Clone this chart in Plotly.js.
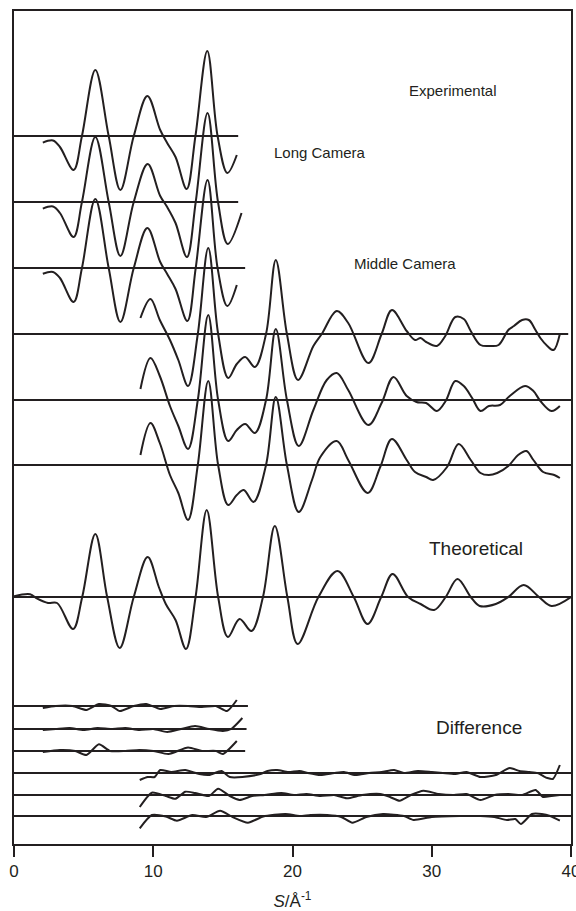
<!DOCTYPE html>
<html>
<head>
<meta charset="utf-8">
<script src="https://cdn.plot.ly/plotly-3.0.1.min.js"></script>
<style>html,body{margin:0;padding:0;background:#fff;}#chart{width:576px;height:911px;}</style>
</head>
<body>
<div id="chart"></div>
<script>
// ---- Data: s (Å^-1) and scattering intensity (arbitrary units, relative to each baseline) ----
// Experimental, long camera distance
const lc1S = [2.07, 2.8, 3.3, 4.28, 4.88, 5.84, 6.8, 7.64, 8.6, 9.58, 10.5, 11.0, 11.6, 12.4, 13.03, 13.88, 14.62, 15.32, 16.0];
const lc1Y = [-6.7, -4.5, -11, -34, 0, 66, 0, -54, 0, 40, 6, -7, -21, -53, 0, 85, 0, -37, -19];
const lc2S = [2.07, 2.8, 3.3, 4.28, 4.88, 5.84, 6.8, 7.64, 8.6, 9.6, 10.5, 11.0, 11.6, 12.42, 13.05, 13.9, 14.65, 15.35, 16.34];
const lc2Y = [-6.7, -4.5, -11, -35, 0, 65, 0, -54, 0, 38, 6, -5, -21, -55, 0, 89, 0, -42, -11];
const lc3S = [2.07, 2.8, 3.3, 4.28, 4.88, 5.84, 6.8, 7.64, 8.6, 9.58, 10.5, 11.0, 11.6, 12.45, 13.05, 13.9, 14.62, 15.32, 16.0];
const lc3Y = [-5.7, -4, -10, -34, 0, 69, 0, -54, 0, 40, 6, -6, -21, -53, 0, 88, 0, -38, -17];

// Experimental, middle camera distance
const mc1S = [9.08, 9.8, 10.47, 11.2, 11.8, 12.5, 13.2, 13.95, 14.66, 15.38, 16.0, 16.6, 17.3, 18.1, 18.8, 19.6, 20.4, 21.5, 22.1, 23.18, 24.0, 25.45, 26.4, 27.14, 28.2, 28.8, 29.2, 29.6, 30.37, 30.97, 31.69, 32.3, 32.8, 33.5, 34.2, 34.8, 35.5, 35.9, 36.49, 36.97, 37.45, 37.8, 38.3, 38.75, 39.2];
const mc1Y = [16, 35, 14, -6, -26, -52, 0, 86, 0, -44, -30, -23, -33, 0, 74, 0, -46, -12, 0, 23, 11, -29, 0, 24, 3, -6, -4, -8, -12, -2, 17, 15, 3, -11, -12, -11, 4, 8, 14, 14, 4, -4, -12, -16, 0];
const mc2S = [9.08, 9.8, 10.47, 11.2, 11.8, 12.5, 13.2, 13.95, 14.66, 15.38, 16.0, 16.6, 17.3, 18.1, 18.8, 19.6, 20.45, 21.5, 22.46, 23.18, 24.0, 25.45, 26.4, 27.25, 28.2, 28.9, 29.6, 30.37, 31.0, 31.69, 32.3, 32.9, 33.5, 34.1, 34.9, 35.6, 36.7, 37.3, 37.8, 38.6, 39.2];
const mc2Y = [11, 42, 24, -6, -26, -49, 0, 85, 0, -41, -30, -24, -33, 0, 71, 0, -46, -10, 20, 27, 10, -25, -3, 23, 4, -2, -3, -11, -1, 19, 14, 2, -11, -6, -5, 4, 14, 9, -1, -11, -6];
const mc3S = [9.08, 9.8, 10.47, 11.2, 11.8, 12.5, 13.2, 13.95, 14.66, 15.38, 16.0, 16.5, 17.2, 18.1, 18.8, 19.6, 20.45, 21.4, 22.0, 23.18, 24.0, 25.4, 26.3, 27.14, 28.2, 28.8, 29.6, 30.1, 31.1, 31.93, 32.8, 33.5, 34.1, 34.7, 35.5, 36.2, 36.8, 37.3, 38.0, 38.8, 39.2];
const mc3Y = [10, 42, 22, -10, -28, -55, 0, 84, 0, -40, -30, -25, -37, 0, 68, 0, -47, -15, 8, 24, 5, -28, -2, 26, 5, -7, -12, -15, -2, 21, 5, -8, -10, -8, -1, 10, 14, 5, -7, -10, -13];

// Theoretical
const thS = [0, 1.16, 1.67, 2.44, 3.09, 4.24, 4.9, 5.84, 6.69, 7.59, 8.6, 9.6, 10.4, 10.9, 11.6, 12.35, 13.04, 13.84, 14.66, 15.36, 16.2, 17.05, 17.88, 18.73, 19.63, 20.37, 21.86, 23.23, 24.4, 25.39, 26.37, 27.19, 28.3, 29.2, 30.17, 31.0, 31.85, 32.8, 33.44, 34.6, 35.5, 36.6, 37.7, 38.6, 40];
const thY = [0.7, 2.7, -1.7, -6, -6, -32, 0, 63, 0, -51, 0, 40, 10, -7, -23, -52, 0, 87, 0, -40, -22, -34, 0, 71, 0, -47, 0, 26, 0, -27, 0, 23, 0, -7, -13, 0, 18, 0, -9, -7, 0, 12, 0, -9, 0];

// Differences (experimental - theoretical)
const d1S = [2.07, 3.0, 4.2, 5.2, 6.1, 7.0, 7.6, 8.6, 9.5, 10.5, 11.5, 12.5, 13.5, 14.5, 15.3, 16.0];
const d1Y = [-2, 0, 0, -4, 2, 0, -5, 0, 2, -3, 0, 0, -1, 0, -5, 6];
const d2S = [2.07, 3.0, 4.0, 5.0, 6.0, 7.0, 8.0, 9.0, 10.0, 11.0, 12.0, 13.0, 14.0, 15.0, 15.6, 16.4];
const d2Y = [-1, 0, 1, -1, 1, 0, 1, -1, 0, -3, 0, 3, 0, -2, 0, 11];
const d3S = [2.07, 3.3, 4.4, 5.2, 6.1, 6.9, 8.0, 9.0, 10.0, 11.1, 12.5, 13.5, 14.5, 15.0, 16.0];
const d3Y = [-1, 1, 0, -4, 6.7, 0, 0, 1, 0, -3, 3.5, 0, 0, -3, 10];
const d4S = [9.03, 9.6, 10.1, 10.5, 11.3, 12.3, 13.3, 14.0, 14.9, 15.5, 16.4, 17.7, 18.2, 18.9, 19.7, 20.5, 21.1, 22.0, 23.0, 23.7, 24.5, 25.5, 26.4, 27.3, 28.0, 29.0, 30.0, 30.8, 31.7, 32.5, 33.5, 34.6, 35.6, 36.3, 37.0, 37.6, 38.0, 38.3, 38.7, 39.2];
const d4Y = [-7, -4, -4, 3, 1, 3, -1, -2, 2, -4, -4, -1, 2, 3, 1, 2, 0, -2, 0, 1, -2, 0, 1, 3, 0, 2, 1, 0, -1, 1, -4, -2, 5, 2, 1, 0, -3, -5, -6, 8];
const d5S = [9.03, 9.9, 10.9, 11.6, 12.3, 13.0, 14.0, 14.66, 15.5, 16.2, 17.1, 18.0, 19.2, 20.1, 21.0, 22.0, 23.0, 23.9, 25.0, 26.3, 27.0, 27.7, 28.5, 29.4, 30.5, 31.6, 32.5, 33.5, 34.5, 35.5, 36.5, 37.45, 38.0, 38.6, 39.2];
const d5Y = [-12, 2.3, -1, -3.7, 3.3, 2, -1, 6.3, -1, -5, -1, 0, 2, 0, 1, -1, 0, -3.3, 0, 1, -2, -5.7, 0, 4.3, 1, 0, 1, -5, 0, 1, 0, 5, -2, -1, 0];
const d6S = [9.03, 9.9, 10.9, 11.7, 12.8, 13.8, 14.8, 15.7, 16.8, 17.9, 19.5, 20.5, 21.3, 22.5, 23.5, 24.3, 25.3, 26.5, 28.0, 28.7, 30.0, 32.0, 33.5, 34.5, 35.4, 36.0, 36.4, 37.2, 37.9, 38.5, 39.2];
const d6Y = [-12.3, 1, -0.5, -4.7, 1, -1, 5.3, -1, -6.7, -0.5, 2, 0, 1, 1, -1, -6.7, -1, 2, 0, -4, -1, 0, 0, -1, -4, -3, -8, 2, 2, 0, -4.7];

// Baseline extents (s at right end of each baseline)
const baseEnd = [16.1, 16.1, 16.6, 39.8, 40, 40, 40, 16.8, 16.7, 16.6, 40, 40, 40];

// Labels
const labelText = ["Experimental", "Long Camera", "Middle Camera", "Theoretical", "Difference"];
const xTicks = [0, 10, 20, 30, 40];

// ---- Layout constants (vertical stacking offsets, plot units = px) ----
const offsets = [708, 642, 576, 510, 444, 379, 247, 138, 115, 93, 71, 49, 28];
const curves = [
  [lc1S, lc1Y], [lc2S, lc2Y], [lc3S, lc3Y],
  [mc1S, mc1Y], [mc2S, mc2Y], [mc3S, mc3Y],
  [thS, thY],
  [d1S, d1Y], [d2S, d2Y], [d3S, d3Y], [d4S, d4Y], [d5S, d5Y], [d6S, d6Y]
];
const ink = '#231f20';
const traces = [];
curves.forEach((c, i) => {
  traces.push({
    x: [0, baseEnd[i]], y: [offsets[i], offsets[i]], mode: 'lines',
    line: {color: ink, width: 2}, hoverinfo: 'skip', showlegend: false
  });
  const smooth = i >= 7 ? 0.6 : 1.0;
  traces.push({
    x: c[0], y: c[1].map(v => v + offsets[i]), mode: 'lines',
    line: {color: ink, width: 2, shape: 'spline', smoothing: smooth}, showlegend: false
  });
});

const labelPos = [[31.5, 754], [22.0, 692], [28.1, 581], [33.2, 296], [33.4, 117]];
const labelSize = [15, 15, 15, 19, 19];
const annotations = labelText.map((t, i) => ({
  x: labelPos[i][0], y: labelPos[i][1], xref: 'x', yref: 'y', text: t, showarrow: false,
  font: {family: 'Liberation Sans, Arial, sans-serif', size: labelSize[i], color: ink}
}));

const layout = {
  width: 576, height: 911,
  margin: {l: 14, r: 5, t: 11, b: 67},
  paper_bgcolor: '#fff', plot_bgcolor: '#fff',
  showlegend: false,
  font: {family: 'Liberation Sans, Arial, sans-serif', color: ink},
  xaxis: {
    range: [0, 40], tickvals: xTicks, ticktext: xTicks.map(String), ticks: 'outside', ticklen: 11, tickwidth: 2,
    tickcolor: ink, showline: true, mirror: true, linecolor: ink, linewidth: 2,
    showgrid: false, zeroline: false, tickfont: {size: 17, color: ink}, ticklabeloverflow: 'allow',
    title: {text: '<i>S</i>/Å<sup>-1</sup>', font: {size: 17, color: ink}, standoff: 15}
  },
  yaxis: {
    range: [0, 833], showticklabels: false, ticks: '', showline: true, mirror: true,
    linecolor: ink, linewidth: 2, showgrid: false, zeroline: false
  },
  annotations: annotations
};

Plotly.newPlot('chart', traces, layout, {displayModeBar: false, staticPlot: true});
</script>
</body>
</html>
